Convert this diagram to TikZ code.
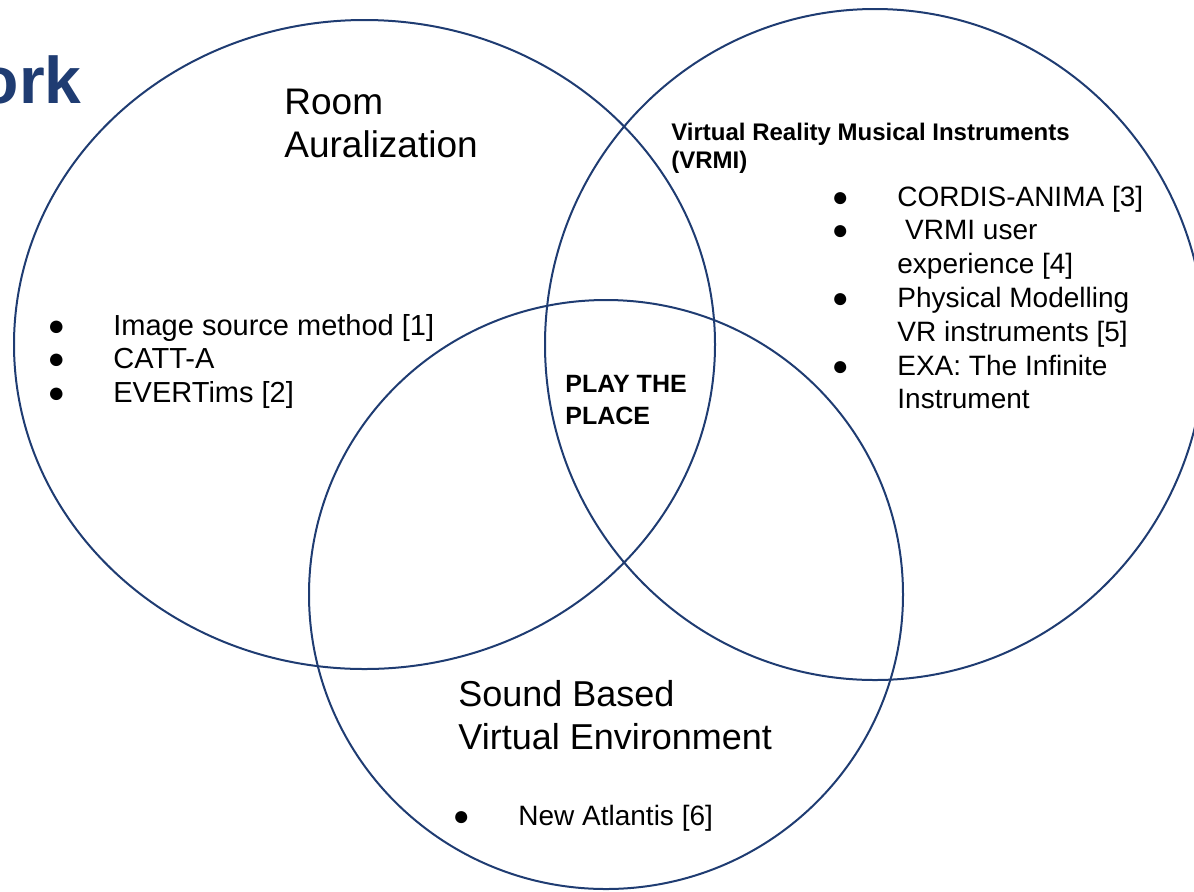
\documentclass[tikz,border=0pt]{standalone}
\usepackage{fontspec}
\setmainfont{Liberation Sans}
\usepackage{xcolor}
\usetikzlibrary{shapes.geometric, positioning}
\definecolor{venn}{HTML}{1F3C72}
\newcommand{\bul}{\llap{\makebox[0pt]{●}\hspace{28.5pt}}}

\begin{document}
\begin{tikzpicture}[x=0.5pt,y=-0.5pt]
\tikzstyle{set} = [ellipse, draw=venn, line width=1pt, inner sep=0pt, outer sep=0pt]
\tikzstyle{heading} = [inner sep=0pt, anchor=base west, font=\fontsize{18}{21.5}\selectfont]
\tikzstyle{boldtext} = [inner sep=0pt, anchor=base west]
\tikzstyle{itemlist} = [inner sep=0pt, anchor=base west]

\useasboundingbox (0,0) rectangle (1194,891);

\node (aur) [set, minimum width=350.5pt, minimum height=324.5pt] at (364.5,344.5) {};
\node (vrmi) [set, minimum width=330pt, minimum height=335.5pt] at (875,344.5) {};
\node (sbve) [set, minimum width=297pt, minimum height=294.5pt] at (606,594.5) {};

\node (ork) [inner sep=0pt, anchor=base east, text=venn, font=\fontsize{33}{40}\selectfont\bfseries] at (82,103) {ork};

\node (roomtxt) [heading, font=\fontsize{18.5}{21.5}\selectfont] at (284,114) {\begin{tabular}[t]{@{}l@{}}Room\\Auralization\end{tabular}};
\node (auritems) [itemlist, font=\fontsize{14.5}{16.75}\selectfont] at (113,335) {\begin{tabular}[t]{@{}l@{}}
\bul Image source method [1]\\
\bul CATT-A\\
\bul EVERTims [2]
\end{tabular}};

\node (vrmitxt) [boldtext, font=\fontsize{12}{14}\selectfont\bfseries] at (671,140) {\begin{tabular}[t]{@{}l@{}}Virtual Reality Musical Instruments\\(VRMI)\end{tabular}};
\node (vrmiitems) [itemlist, font=\fontsize{14}{16.9}\selectfont] at (897,206) {\begin{tabular}[t]{@{}l@{}}
\bul CORDIS-ANIMA [3]\\
\bul \ VRMI user\\
experience [4]\\
\bul Physical Modelling\\
VR instruments [5]\\
\bul EXA: The Infinite\\
Instrument
\end{tabular}};

\node (play) [boldtext, font=\fontsize{12.5}{16}\selectfont\bfseries] at (565,392) {\begin{tabular}[t]{@{}l@{}}PLAY THE\\PLACE\end{tabular}};

\node (sbvetxt) [heading] at (458,706) {\begin{tabular}[t]{@{}l@{}}Sound Based\\Virtual Environment\end{tabular}};
\node (sbveitems) [itemlist, font=\fontsize{14}{16.9}\selectfont] at (518,825) {\begin{tabular}[t]{@{}l@{}}
\bul New Atlantis [6]
\end{tabular}};
\end{tikzpicture}
\end{document}
